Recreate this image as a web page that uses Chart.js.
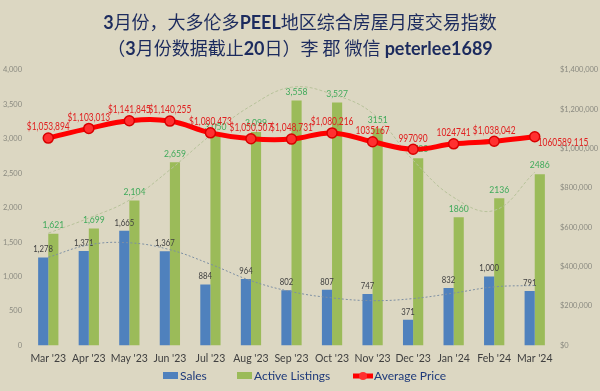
<!DOCTYPE html>
<html>
<head>
<meta charset="utf-8">
<script src="https://cdn.jsdelivr.net/npm/chart.js@4.4.1/dist/chart.umd.min.js"></script>
<style>
  html, body { margin: 0; padding: 0; background: #dcd7c2; }
  #wrap { position: relative; width: 600px; height: 391px; }
  #title {
    position: absolute; top: 9px; left: 0; width: 600px; text-align: center;
    font-family: 'Noto Sans CJK SC', sans-serif; font-size: 18px; line-height: 25px;
    color: #1c2b5e;
  }
  #title b { font-family: Lato, 'Noto Sans CJK SC', sans-serif; font-weight: bold; }
  canvas { position: absolute; top: 0; left: 0; }
  .leg { position: absolute; top: 368px; height: 16px; font-family: Lato, sans-serif; font-size: 12px;
         line-height: 16px; color: #1f3a7a; white-space: nowrap; }
  .leg i { display: inline-block; width: 15px; height: 7px; margin-right: 2px; vertical-align: 1px; }
  .leg svg { vertical-align: -1px; margin-right: 1px; }
</style>
</head>
<body>
<div id="wrap">
  <canvas id="chart" width="600" height="391"></canvas>
  <div id="title"><b>3</b>月份，大多伦多<b>PEEL</b>地区综合房屋月度交易指数<br>（<b>3</b>月份数据截止<b>20</b>日）李 郡 微信 <b>peterlee1689</b></div>
  <div id="legend"></div>
</div>
<script>
const months = ["Mar '23", "Apr '23", "May '23", "Jun '23", "Jul '23", "Aug '23", "Sep '23", "Oct '23", "Nov '23", "Dec '23", "Jan '24", "Feb '24", "Mar '24"];

// values
const sales = [1278, 1371, 1665, 1367, 884, 964, 802, 807, 747, 371, 832, 1000, 791];
const activeListings = [1621, 1699, 2104, 2659, 3050, 3099, 3558, 3527, 3151, 2720, 1860, 2136, 2486];
const avgPrice = [1053894, 1103013, 1141845, 1140255, 1080473, 1050507, 1048731, 1080216, 1035167, 997090, 1024741, 1038042, 1060589.115];

// label texts as they appear
const salesLabels = ['1,278', '1,371', '1,665', '1,367', '884', '964', '802', '807', '747', '371', '832', '1,000', '791'];
const activeLabels = ['1,621', '1,699', '2,104', '2,659', '3,050', '3,099', '3,558', '3,527', '3151', '2720', '1860', '2136', '2486'];
const priceLabels = ['$1,053,894', '$1,103,013', '$1,141,845', '$1,140,255', '$1,080,473', '$1,050,507', '$1,048,731', '$1,080,216', '1035167', '997090', '1024741', '$1,038,042', '1060589.115'];

// dotted trendlines
const salesTrend = [1280, 1460, 1490, 1390, 1180, 940, 780, 690, 650, 680, 760, 850, 870];
const activeTrend = [1630, 1850, 2110, 2550, 3050, 3480, 3750, 3650, 3370, 2690, 2150, 1960, 2515];

const leftTicks = [0, 500, 1000, 1500, 2000, 2500, 3000, 3500, 4000];
const rightTicks = [0, 200000, 400000, 600000, 800000, 1000000, 1200000, 1400000];

const labelFont = "Lato, sans-serif";

// draws the value labels, squeezed a bit like the narrow font in the original
const valueLabels = {
    id: 'valueLabels',
    afterDatasetDraw(chart, args) {
        const ctx = chart.ctx;
        const ds = chart.data.datasets[args.index];
        if (!ds.valueText) return;
        ctx.save();
        ctx.textAlign = 'center';
        ctx.textBaseline = 'middle';
        ctx.fillStyle = ds.valueColor;
        ctx.font = ds.valueFont;
        args.meta.data.forEach((el, i) => {
            let x = el.x, y = el.y - ds.valueGap;
            if (ds.type === 'line' && i === ds.valueText.length - 1) {
                ctx.textAlign = 'left';
                x = el.x + 3;
                y = el.y + 6;
            }
            ctx.save();
            ctx.translate(x, y);
            ctx.scale(ds.squeeze, 1);
            ctx.fillText(ds.valueText[i], 0, 0);
            ctx.restore();
        });
        ctx.restore();
    }
};

const chart = new Chart(document.getElementById('chart'), {
    type: 'bar',
    data: {
        labels: months,
        datasets: [{
            label: 'Sales',
            data: sales,
            backgroundColor: '#4f81bd',
            yAxisID: 'y',
            order: 3,
            valueText: salesLabels,
            valueColor: '#404040',
            valueFont: '9px ' + labelFont,
            valueGap: 8,
            squeeze: 0.86
        }, {
            label: 'Active Listings',
            data: activeListings,
            backgroundColor: '#9bbb59',
            yAxisID: 'y',
            order: 3,
            valueText: activeLabels,
            valueColor: '#3faa5a',
            valueFont: '10px ' + labelFont,
            valueGap: 9,
            squeeze: 0.86
        }, {
            type: 'line',
            label: 'Average Price',
            data: avgPrice,
            yAxisID: 'y1',
            borderColor: '#ff0000',
            backgroundColor: '#ff0000',
            borderWidth: 5,
            tension: 0.4,
            pointRadius: 5,
            pointBackgroundColor: '#ff3030',
            pointBorderColor: '#d80000',
            pointBorderWidth: 1.5,
            order: 0,
            valueText: priceLabels,
            valueColor: '#e02020',
            valueFont: '10.5px ' + labelFont,
            valueGap: 11,
            squeeze: 0.8
        }, {
            type: 'line',
            label: 'trend1',
            data: salesTrend,
            yAxisID: 'y',
            borderColor: '#7d8fa3',
            borderWidth: 1,
            borderDash: [2, 2],
            pointRadius: 0,
            tension: 0.4,
            order: 2
        }, {
            type: 'line',
            label: 'trend2',
            data: activeTrend,
            yAxisID: 'y',
            borderColor: '#b7c29a',
            borderWidth: 1,
            borderDash: [3, 2],
            pointRadius: 0,
            tension: 0.4,
            order: 2
        }]
    },
    options: {
        responsive: false,
        animation: false,
        categoryPercentage: 0.5,
        barPercentage: 1.0,
        layout: { padding: { top: 70, bottom: 19, left: 0, right: 0 } },
        plugins: {
            legend: { display: false },
            tooltip: { enabled: false }
        },
        scales: {
            x: {
                grid: { display: false, drawTicks: false },
                border: { display: false },
                ticks: {
                    color: '#404040',
                    font: { family: 'Lato', size: 10.5 },
                    padding: 7,
                    autoSkip: false,
                    maxRotation: 0,
                    minRotation: 0
                }
            },
            y: {
                position: 'left',
                min: 0,
                max: 4000,
                afterBuildTicks: s => { s.ticks = leftTicks.map(v => ({ value: v })); },
                afterFit: s => { s.width = 28; },
                grid: { display: false, drawTicks: false },
                border: { display: false },
                ticks: {
                    color: '#8a8a80',
                    font: { family: labelFont, size: 7.5 },
                    padding: 6,
                    callback: v => v.toLocaleString('en-US')
                }
            },
            y1: {
                position: 'right',
                min: 0,
                max: 1400000,
                afterBuildTicks: s => { s.ticks = rightTicks.map(v => ({ value: v })); },
                afterFit: s => { s.width = 45; },
                grid: { display: false, drawTicks: false },
                border: { display: false },
                ticks: {
                    color: '#8a8a80',
                    font: { family: labelFont, size: 7.5 },
                    padding: 5,
                    callback: v => '$' + v.toLocaleString('en-US')
                }
            }
        }
    },
    plugins: [valueLabels]
});

// legend as html, spaced like the original
const legendLeft = [163, 237, 353];
const legendHost = document.getElementById('legend');
chart.data.datasets.slice(0, 3).forEach((ds, i) => {
    const item = document.createElement('div');
    item.className = 'leg';
    item.style.left = legendLeft[i] + 'px';
    const mark = ds.type === 'line'
        ? '<svg width="20" height="10"><line x1="0" y1="5" x2="20" y2="5" stroke="' + ds.borderColor + '" stroke-width="5"/><circle cx="10" cy="5" r="4" fill="' + ds.pointBackgroundColor + '"/></svg>'
        : '<i style="background:' + ds.backgroundColor + '"></i>';
    item.innerHTML = mark + ds.label;
    legendHost.appendChild(item);
});
</script>
</body>
</html>
